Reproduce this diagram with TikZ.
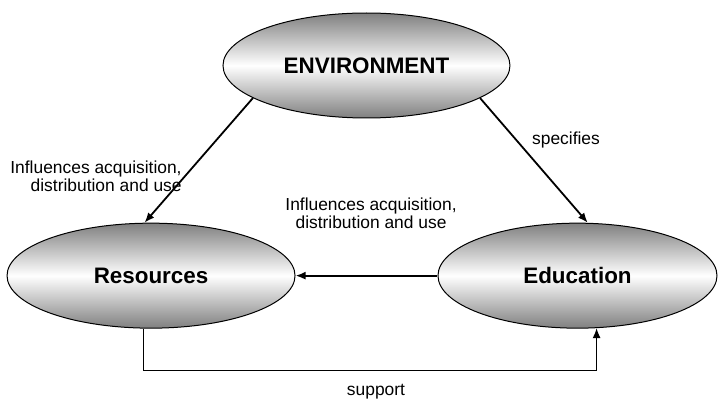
\documentclass[tikz,border=0pt]{standalone}
\usepackage{fontspec}
\setmainfont{Liberation Sans}
\usetikzlibrary{shapes.geometric,arrows.meta}

\begin{document}
\begin{tikzpicture}[
            blob/.style={ellipse,draw,line width=0.5pt,top color=black!50,bottom color=black!50,middle color=white,
                minimum width=#1,minimum height=1.845cm,inner sep=0pt,font=\fontsize{11.2}{13}\selectfont\bfseries},
            link/.style={-{Latex[length=5pt,width=4pt]},line width=0.9pt},
            lbl/.style={font=\fontsize{8.7}{9}\selectfont,align=center}]
            \useasboundingbox (0,0) rectangle (12.617,7.064);
            \node (env) at (6.440,5.913) [blob=5.043cm] {ENVIRONMENT};
            \node (res) at (2.654,2.22) [blob=5.061cm] {Resources};
            \node (edu) at (10.148,2.22) [blob=4.903cm] {Education};
            \node (infl) at (1.687,3.972) [lbl,align=right] {Influences acquisition,\\distribution and use};
            \node (spec) at (9.946,4.604) [lbl] {specifies};
            \node (back) at (6.520,3.321) [lbl] {Influences acquisition,\\distribution and use};
            \node (supp) at (6.607,0.176) [lbl] {support};
            \draw[link] (env.196) -- (res.97);
            \draw[link] (env.344) -- (edu.79);
            \draw[link] (edu.west) -- (res.east);
            \draw[link,line width=0.6pt] (res.262) -- ++(0,-0.74) -| (edu.290);
        \end{tikzpicture}
\end{document}
